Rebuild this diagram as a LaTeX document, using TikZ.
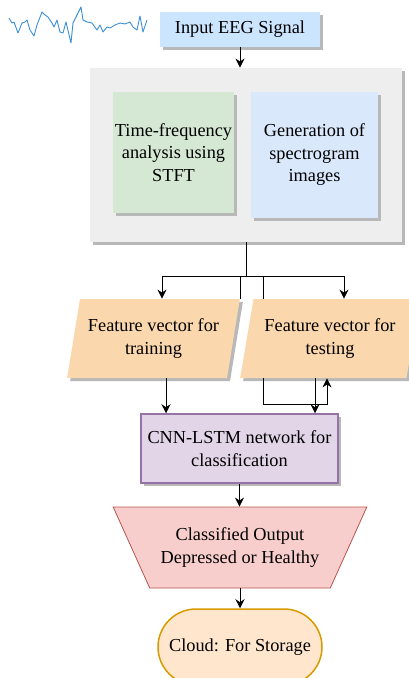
\documentclass[tikz,border=0pt]{standalone}
\usepackage{fontspec}
\setmainfont{Liberation Serif}
\usepackage{tikz}
\usepackage{xcolor}
\usetikzlibrary{arrows.meta, shapes.geometric, shadows, calc, positioning}

\definecolor{inblue}{HTML}{CCE5FF}
\definecolor{panelgray}{HTML}{EEEEEE}
\definecolor{stftgreen}{HTML}{D5E8D4}
\definecolor{specblue}{HTML}{DAE8FC}
\definecolor{featorange}{HTML}{FAD7AC}
\definecolor{netfill}{HTML}{E1D5E7}
\definecolor{netline}{HTML}{9673A6}
\definecolor{outfill}{HTML}{F8CECC}
\definecolor{outline}{HTML}{B85450}
\definecolor{cloudfill}{HTML}{FFE6CC}
\definecolor{cloudline}{HTML}{D79B00}
\definecolor{wave}{HTML}{3D8FD6}

\tikzset{
  shade/.style={drop shadow={shadow xshift=3pt, shadow yshift=-3pt, fill=black!28, opacity=1}},
  blockbox/.style={rectangle, shade, align=center, inner sep=2pt},
  featbox/.style={trapezium, trapezium left angle=73.8, trapezium right angle=106.2,
    trapezium stretches=true, fill=featorange, shade, align=center,
    minimum height=79pt, inner sep=0pt},
}

\begin{document}
\begin{tikzpicture}[x=1pt, y=-1pt, >={Stealth[length=9pt,width=9pt]}, line width=0.8pt,
  font=\fontsize{18.3}{22.5}\selectfont]
  \useasboundingbox (0,0) rectangle (409,678);
  \clip (0,0) rectangle (409,678);

  % eeg trace
  \draw[wave, line width=0.9pt, line join=round]
    (9,18) -- (12,23) -- (14,22) -- (18,33) -- (22,23) -- (25,22) -- (27,20) -- (30,30)
    -- (34,36) -- (37,25) -- (42,12) -- (45,15) -- (48,17) -- (52,23) -- (54,27) -- (57,20)
    -- (60,32) -- (63,33) -- (66,22) -- (71,43) -- (73,23) -- (76,17) -- (78,13) -- (81,7)
    -- (83,20) -- (87,22) -- (92,23) -- (97,30) -- (100,25) -- (103,32) -- (107,27) -- (110,28)
    -- (115,25) -- (120,23) -- (125,24) -- (130,22) -- (133,27) -- (137,30) -- (140,16)
    -- (143,32) -- (147,20);

  \node[blockbox, fill=inblue, minimum width=160pt, minimum height=35pt] (input) at (240,29.5) {Input EEG Signal};
  \node[blockbox, fill=panelgray, minimum width=312pt, minimum height=174pt] (panel) at (246,155) {};
  \node[blockbox, fill=stftgreen, minimum width=121pt, minimum height=121pt] (stft) at (173.5,152.5) {Time-frequency\\analysis using\\STFT};
  \node[blockbox, fill=specblue, minimum width=127pt, minimum height=126pt] (spec) at (314.5,155) {Generation of\\spectrogram\\images};

  \node[featbox, minimum width=173pt] (train) at (153.5,338.5) {Feature vector for\\training};
  \node[featbox, minimum width=180pt] (test) at (330,338.5) {Feature vector for\\testing};

  \node[blockbox, fill=netfill, draw=netline, line width=1.5pt, minimum width=197pt, minimum height=69pt] (cnn) at (239.5,448.5) {CNN-LSTM network for\\classification};
  \node[trapezium, trapezium left angle=126, trapezium right angle=126, trapezium stretches=true,
    fill=outfill, draw=outline, minimum width=254pt, minimum height=81pt, align=center] (out) at (240,547.5) {Classified Output\\Depressed or Healthy};
  \node[rectangle, rounded corners=38pt, fill=cloudfill, draw=cloudline, line width=1.5pt,
    minimum width=164pt, minimum height=76pt] (cloud) at (240,647) {Cloud: For Storage};

  \coordinate (split) at (246,276);

  \draw[->] (input.south) -- (input.south |- panel.north);
  \draw (panel.south) -- (split);
  \draw[->] (split) -| ([xshift=8.5pt]train.north);
  \draw[->] (split) -| ([xshift=14pt]test.north);
  \draw ([xshift=86.5pt]train.north) -- ([xshift=86.5pt]train.north |- split);
  \draw ([xshift=-67pt]test.north) -- ([xshift=-67pt]test.north |- split);
  \draw[->] ([xshift=12.5pt]train.south) -- ([xshift=12.5pt]train.south |- cnn.north);
  \draw[->] ([xshift=-67pt]test.south) -- ++(0,26) -| ([xshift=-3pt]test.south);
  \draw[->] ([xshift=-15pt]test.south) -- ([xshift=-15pt]test.south |- cnn.north);
  \draw[->] (cnn.south) -- (cnn.south |- out.north);
  \draw[->] (out.south) -- (out.south |- cloud.north);
\end{tikzpicture}
\end{document}
